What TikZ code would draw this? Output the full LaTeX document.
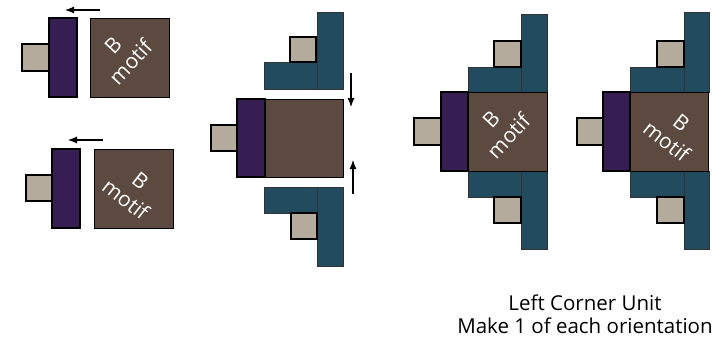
\documentclass[tikz,border=0pt]{standalone}
\usepackage{fontspec}
\setmainfont{Open Sans}
\usetikzlibrary{arrows.meta}
\definecolor{motifbrown}{RGB}{92,73,63}
\definecolor{linkpurple}{RGB}{54,29,82}
\definecolor{captan}{RGB}{181,171,157}
\definecolor{armteal}{RGB}{35,75,95}
\tikzset{
  tancap/.style={fill=captan, draw=black, line width=1.3pt},
  link/.style={fill=linkpurple, draw=black, line width=1.6pt},
  motif/.style={fill=motifbrown, draw=black, line width=1pt},
  arm/.style={fill=armteal, draw=black!80, line width=0.8pt},
  motiftext/.style={text=white, align=center, inner sep=0pt, font=\fontsize{21}{24}\selectfont},
  push/.style={line width=1.1pt, -{Latex[length=9pt,width=7pt]}}
}

\begin{document}
\begin{tikzpicture}[x=1pt, y=-1pt]
\useasboundingbox (0,0) rectangle (713,346);
%first pair, text turned up
\draw [tancap] (22,44) rectangle (49,71);
\draw [link] (49,18) rectangle (77,97);
\draw [motif] (90,18) rectangle (169,97);
\node [motiftext, rotate=47] (motifA) at (122,54) {B\\motif};
\draw [push] (100,10) -- (65,10);

%second pair, text turned down
\draw [tancap] (26,175) rectangle (53,201);
\draw [link] (52,149) rectangle (80,228);
\draw [motif] (94,149) rectangle (173,228);
\node [motiftext, rotate=-38] (motifB) at (133,190) {B\\motif};
\draw [push] (103,140) -- (68,140);

%middle: joined pair and the two arms
\draw [arm] (317,12) rectangle (343,89);
\draw [arm] (264,62) rectangle (317,89);
\draw [tancap] (290,37) rectangle (316,62);
\draw [tancap] (211,125) rectangle (237,151);
\draw [motif] (265,99) rectangle (343,177);
\draw [link] (237,99) rectangle (265,177);
\draw [arm] (264,187) rectangle (317,213);
\draw [arm] (317,187) rectangle (343,266);
\draw [tancap] (291,213) rectangle (317,239);
\draw [push] (351,73) -- (351,107);
\draw [push] (353,194) -- (353,160);

%left corner unit, first orientation
\draw [arm] (521,14) rectangle (547,92);
\draw [arm] (468,67) rectangle (521,92);
\draw [tancap] (494,41) rectangle (521,67);
\draw [arm] (468,171) rectangle (521,197);
\draw [arm] (521,171) rectangle (547,249);
\draw [tancap] (494,197) rectangle (521,223);
\draw [tancap] (414,118) rectangle (441,145);
\draw [motif] (468,92) rectangle (547,171);
\draw [link] (441,92) rectangle (468,171);
\node [motiftext, rotate=47] (unitA) at (500,128) {B\\motif};

%left corner unit, second orientation
\draw [arm] (684,12) rectangle (709,92);
\draw [arm] (630,67) rectangle (684,92);
\draw [tancap] (657,41) rectangle (684,67);
\draw [arm] (630,171) rectangle (684,197);
\draw [arm] (684,171) rectangle (709,249);
\draw [tancap] (657,197) rectangle (684,223);
\draw [tancap] (577,118) rectangle (603,145);
\draw [motif] (630,92) rectangle (708,171);
\draw [link] (603,92) rectangle (630,171);
\node [motiftext, rotate=-38] (unitB) at (674,132) {B\\motif};

%caption
\node [align=center, font=\fontsize{20.5}{23}\selectfont, anchor=base] (caption) at (585,333) {Left Corner Unit\\Make 1 of each orientation};
\end{tikzpicture}
\end{document}
